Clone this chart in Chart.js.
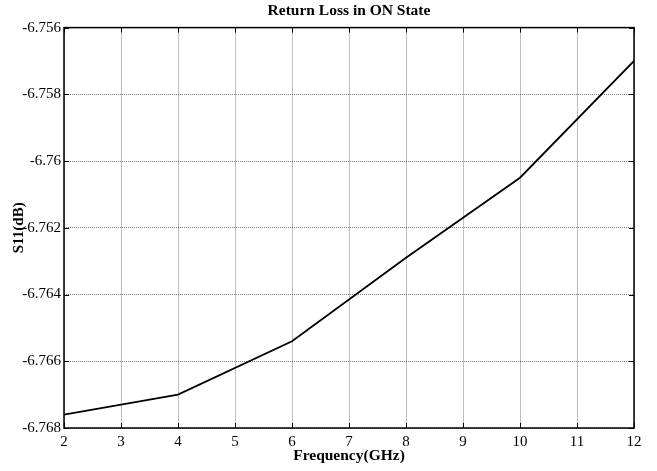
<!DOCTYPE html>
<html>
<head>
<meta charset="utf-8">
<script src="https://cdn.jsdelivr.net/npm/chart.js@4.4.0/dist/chart.umd.min.js"></script>
<style>
  html, body { margin: 0; padding: 0; background: #ffffff; }
  canvas { display: block; }
</style>
</head>
<body>
<canvas id="grafico" width="657" height="471"></canvas>
<script>
// Datos
const frecuencias = [2, 4, 6, 8, 10, 12];
const s11 = [-6.7676, -6.7670, -6.7654, -6.7629, -6.7605, -6.7570];
const ticksX = [2, 3, 4, 5, 6, 7, 8, 9, 10, 11, 12];
const ticksY = [-6.768, -6.766, -6.764, -6.762, -6.760, -6.758, -6.756];

const fuente = "'Liberation Serif', 'Times New Roman', serif";

// Marco completo y marcas hacia dentro, estilo MATLAB
const marcoPlugin = {
  id: 'marco',
  afterDraw(chart) {
    const { ctx, chartArea: a, scales } = chart;
    const largo = 5;
    ctx.save();
    ctx.strokeStyle = '#000';
    ctx.lineWidth = 1;
    ctx.beginPath();
    ticksX.forEach(v => {
      const x = Math.round(scales.x.getPixelForValue(v)) + 0.5;
      ctx.moveTo(x, a.bottom); ctx.lineTo(x, a.bottom - largo);
      ctx.moveTo(x, a.top); ctx.lineTo(x, a.top + largo);
    });
    ticksY.forEach(v => {
      const y = Math.round(scales.y.getPixelForValue(v)) + 0.5;
      ctx.moveTo(a.left, y); ctx.lineTo(a.left + largo, y);
      ctx.moveTo(a.right, y); ctx.lineTo(a.right - largo, y);
    });
    ctx.stroke();
    ctx.lineWidth = 1.5;
    ctx.strokeRect(a.left, a.top, a.right - a.left, a.bottom - a.top);
    ctx.restore();
  }
};

const fondoPlugin = {
  id: 'fondo',
  beforeDraw(chart) {
    const ctx = chart.ctx;
    ctx.save();
    ctx.fillStyle = '#ffffff';
    ctx.fillRect(0, 0, chart.width, chart.height);
    ctx.restore();
  }
};

new Chart(document.getElementById('grafico'), {
  type: 'line',
  data: {
    datasets: [{
      label: 'S11',
      data: frecuencias.map((f, i) => ({ x: f, y: s11[i] })),
      borderColor: '#000000',
      borderWidth: 1.8,
      pointRadius: 0,
      tension: 0,
      fill: false
    }]
  },
  options: {
    responsive: false,
    animation: false,
    layout: { padding: { left: 0, right: 23, top: 0, bottom: 0 } },
    plugins: {
      legend: { display: false },
      tooltip: { enabled: false },
      title: {
        display: true,
        fullSize: false,
        text: 'Return Loss in ON State',
        color: '#000',
        font: { family: fuente, size: 15.5, weight: 'bold' },
        padding: { top: 2, bottom: 7 }
      }
    },
    scales: {
      x: {
        type: 'linear',
        min: 2,
        max: 12,
        afterBuildTicks(scale) { scale.ticks = ticksX.map(v => ({ value: v })); },
        afterFit(scale) { scale.height = 43; },
        ticks: {
          color: '#000',
          font: { family: fuente, size: 15 },
          padding: 5,
          maxRotation: 0,
          autoSkip: false
        },
        grid: {
          color: 'rgba(0,0,0,0.5)',
          lineWidth: 1,
          drawTicks: false
        },
        border: { display: false, dash: [1, 1] },
        title: {
          display: true,
          text: 'Frequency(GHz)',
          color: '#000',
          font: { family: fuente, size: 15.5, weight: 'bold' },
          padding: { top: 0, bottom: 6 }
        }
      },
      y: {
        type: 'linear',
        min: -6.768,
        max: -6.756,
        afterBuildTicks(scale) { scale.ticks = ticksY.map(v => ({ value: v })); },
        afterFit(scale) { scale.width = 64; },
        ticks: {
          color: '#000',
          font: { family: fuente, size: 15 },
          padding: 3,
          autoSkip: false,
          callback: v => String(parseFloat(Number(v).toFixed(3)))
        },
        grid: {
          color: 'rgba(0,0,0,0.5)',
          lineWidth: 1,
          drawTicks: false
        },
        border: { display: false, dash: [1, 1] },
        title: {
          display: true,
          text: 'S11(dB)',
          color: '#000',
          font: { family: fuente, size: 15, weight: 'bold' },
          padding: { top: 10, bottom: 0 }
        }
      }
    }
  },
  plugins: [fondoPlugin, marcoPlugin]
});
</script>
</body>
</html>
